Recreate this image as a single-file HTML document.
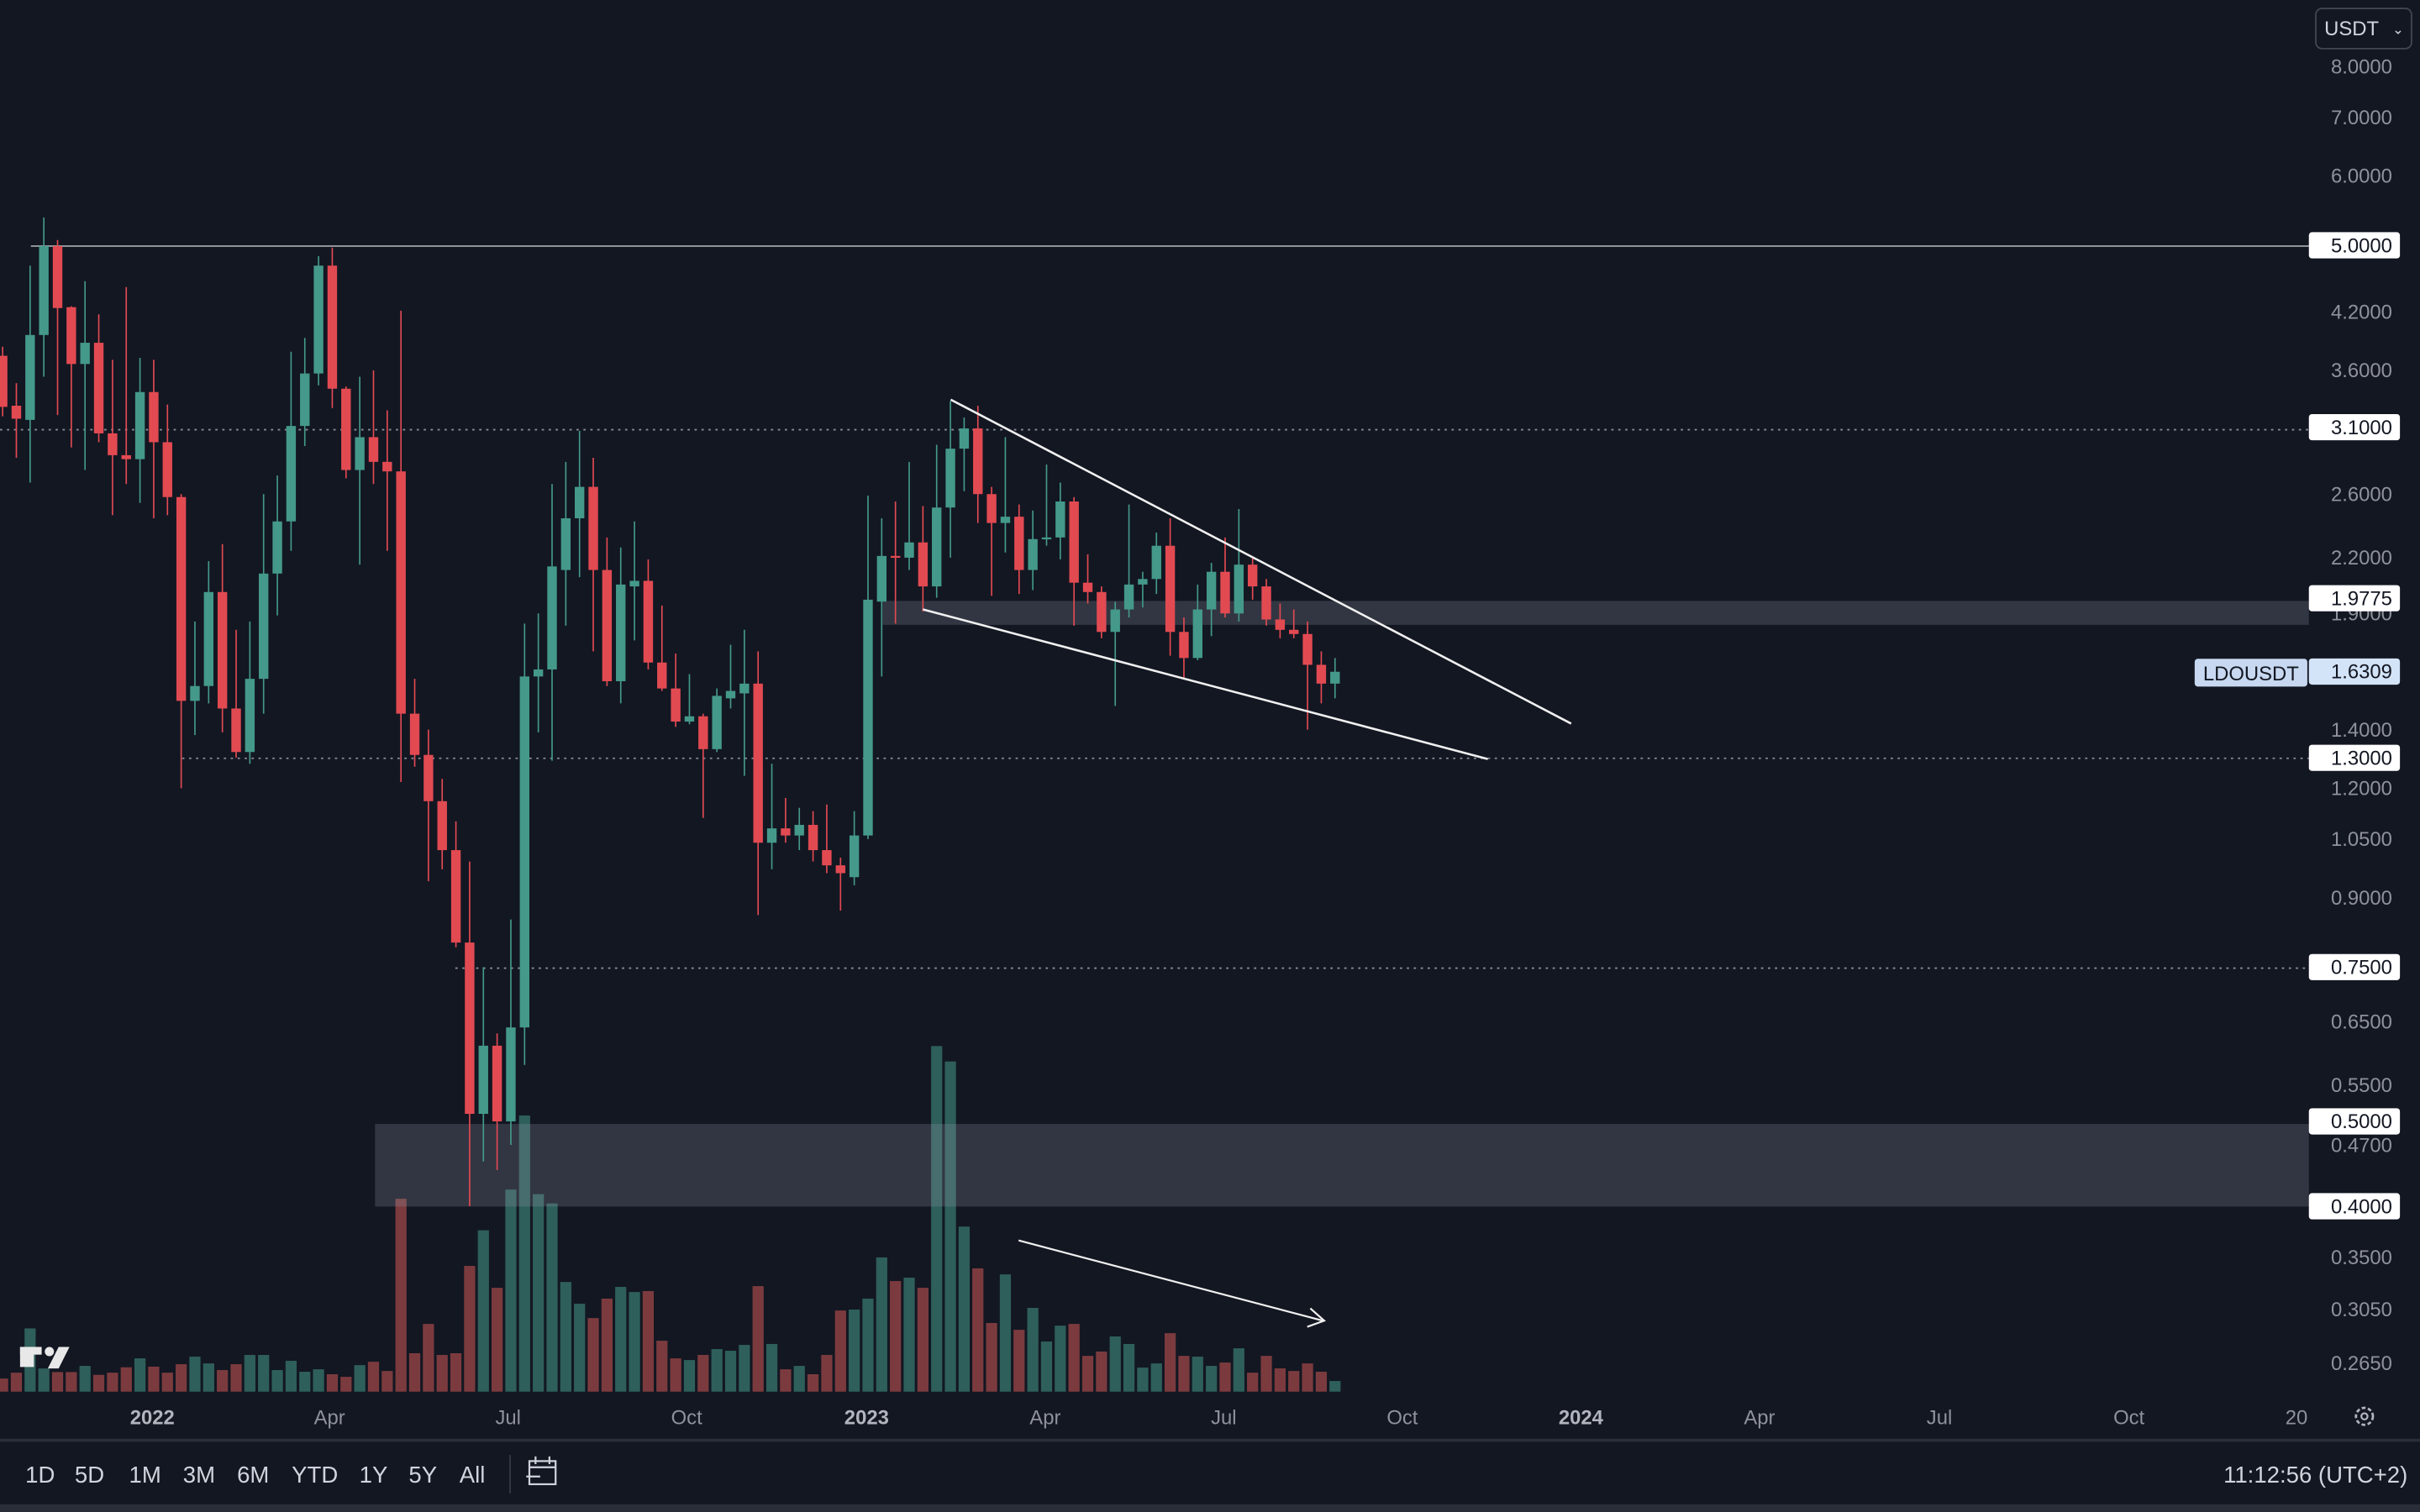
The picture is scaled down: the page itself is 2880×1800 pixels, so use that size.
<!DOCTYPE html>
<html><head><meta charset="utf-8"><style>
html,body{margin:0;padding:0;background:#131722;overflow:hidden}
svg{display:block}
text{font-family:"Liberation Sans",sans-serif}
</style></head><body>
<svg id="chart" width="2880" height="1800" viewBox="0 0 1568 980" xmlns="http://www.w3.org/2000/svg">
<rect x="0" y="0" width="1568" height="980" fill="#131722"/>
<g id="vol"></g>
<g id="hlines">
<line x1="20" y1="159.5" x2="1496" y2="159.5" stroke="#9a9ca3" stroke-width="1"/>
<line x1="0" y1="278.5" x2="1496" y2="278.5" stroke="#8a8d96" stroke-width="1" stroke-dasharray="1.5,3"/>
<line x1="118" y1="491.5" x2="1496" y2="491.5" stroke="#8a8d96" stroke-width="1" stroke-dasharray="1.5,3"/>
<line x1="295" y1="627.5" x2="1496" y2="627.5" stroke="#8a8d96" stroke-width="1" stroke-dasharray="1.5,3"/>
</g>
<rect x="572" y="389.5" width="924" height="15.5" fill="rgba(150,155,172,0.24)"/>
<rect x="243" y="728.5" width="1253" height="53.5" fill="rgba(150,155,172,0.24)"/>
<g id="candles"></g>
<g>
<line x1="616" y1="259" x2="1018" y2="469" stroke="#f0f0f0" stroke-width="1.4"/>
<line x1="598" y1="395" x2="964" y2="492" stroke="#f0f0f0" stroke-width="1.4"/>
<line x1="660" y1="804" x2="857" y2="856" stroke="#f0f0f0" stroke-width="1.2"/>
<polyline points="849,848 858,856 847,860" fill="none" stroke="#f0f0f0" stroke-width="1.2"/>
</g>
<g id="yaxis"></g>
<g id="xaxis"></g>
<g>
<rect x="13" y="873" width="9" height="13" fill="#e8e8e8"/>
<rect x="13" y="873" width="14" height="5" fill="#e8e8e8"/>
<circle cx="32" cy="876" r="3" fill="#e8e8e8"/>
<polygon points="38,873 45,873 38,887 31,887" fill="#e8e8e8"/>
</g>
<g>
<rect x="1500.5" y="5.5" width="62" height="26" rx="4" fill="#131722" stroke="#434651"/>
<text x="1506" y="23" font-size="13" fill="#d1d4dc">USDT</text>
<text x="1550" y="22" font-size="9" fill="#d1d4dc">⌄</text>
</g>
<g>
<rect x="1422" y="427" width="73" height="18" rx="2" fill="#c7d8f0"/>
<text x="1458.5" y="441" font-size="13" fill="#131722" text-anchor="middle">LDOUSDT</text>
</g>
<g>
<circle cx="1532" cy="918" r="5.5" fill="none" stroke="#b2b5be" stroke-width="1.5" stroke-dasharray="2.5,1.5"/>
<circle cx="1532" cy="918" r="2" fill="none" stroke="#b2b5be" stroke-width="1.2"/>
</g>
<line x1="0" y1="933.5" x2="1568" y2="933.5" stroke="#2a2e39" stroke-width="2"/>
<g id="ranges"></g>
<line x1="330.5" y1="943" x2="330.5" y2="968" stroke="#363a45"/>
<g fill="none" stroke="#d1d4dc" stroke-width="1.2">
<rect x="343" y="947" width="17" height="15"/><line x1="343" y1="951" x2="360" y2="951"/><line x1="347" y1="944" x2="347" y2="949"/><line x1="356" y1="944" x2="356" y2="949"/><line x1="341" y1="957" x2="350" y2="957"/>
</g>
<text x="1560" y="961" font-size="15" fill="#d1d4dc" text-anchor="end">11:12:56 (UTC+2)</text>
<rect x="0" y="975" width="1568" height="5" fill="#2a2e39"/>
</svg>
<script>
const opens=[3.74,3.28,3.16,3.95,4.99,4.25,3.66,3.87,3.05,2.88,2.85,3.40,2.98,2.58,1.51,1.57,2.01,1.48,1.32,1.60,2.11,2.42,3.11,3.57,4.74,3.43,2.77,3.02,2.83,2.76,1.46,1.31,1.16,1.02,0.80,0.51,0.61,0.50,0.64,1.61,1.64,2.13,2.44,2.65,2.13,1.59,2.04,2.07,1.67,1.56,1.43,1.45,1.33,1.52,1.54,1.58,1.04,1.08,1.06,1.09,1.02,0.98,0.95,1.06,1.96,2.21,2.20,2.29,2.04,2.51,2.93,3.09,2.60,2.41,2.45,2.13,2.31,2.32,2.55,2.06,2.01,1.81,1.92,2.05,2.08,2.27,1.81,1.69,1.92,2.12,1.90,2.16,2.04,1.87,1.82,1.80,1.66,1.58];
const highs=[3.83,3.48,4.74,5.38,5.07,4.26,4.55,4.17,3.70,4.48,3.72,3.70,3.29,2.60,1.86,2.18,2.28,1.82,1.86,2.60,2.73,3.78,3.92,4.86,4.97,3.45,3.54,3.60,3.24,4.21,1.60,1.40,1.23,1.10,0.99,0.75,0.63,0.85,1.85,1.90,2.67,2.83,3.07,2.86,2.32,2.26,2.42,2.19,1.94,1.71,1.62,1.46,1.56,1.75,1.82,1.72,1.28,1.17,1.14,1.13,1.15,1.00,1.13,2.59,2.44,2.55,2.83,2.52,2.96,3.32,3.18,3.28,2.65,3.02,2.53,2.49,2.81,2.68,2.58,2.22,2.04,1.96,2.53,2.12,2.35,2.44,1.88,2.05,2.17,2.32,2.50,2.20,2.08,1.95,1.92,1.86,1.72,1.69];
const lows=[3.19,2.86,2.68,3.54,3.20,2.94,2.77,2.98,2.46,2.67,2.54,2.44,2.46,1.20,1.38,1.50,1.39,1.30,1.28,1.46,1.89,2.24,2.95,3.46,3.26,2.71,2.16,2.67,2.24,1.22,1.27,0.94,0.97,0.79,0.40,0.45,0.44,0.47,0.58,1.39,1.29,1.84,2.09,1.72,1.57,1.50,1.77,1.64,1.55,1.41,1.42,1.11,1.32,1.48,1.24,0.86,0.97,1.04,1.02,0.99,0.96,0.87,0.93,1.05,1.61,1.85,2.13,1.91,1.98,2.20,2.62,2.41,1.99,2.23,2.00,2.02,2.27,2.19,1.84,1.95,1.78,1.49,1.88,1.93,2.00,1.70,1.60,1.68,1.79,1.88,1.86,1.97,1.84,1.78,1.78,1.40,1.50,1.52];
const closes=[3.27,3.17,3.95,4.99,4.24,3.66,3.87,3.05,2.88,2.85,3.40,2.98,2.58,1.51,1.57,2.01,1.48,1.32,1.60,2.11,2.42,3.11,3.57,4.74,3.43,2.77,3.02,2.83,2.76,1.46,1.31,1.16,1.02,0.80,0.51,0.61,0.50,0.64,1.61,1.64,2.15,2.44,2.65,2.13,1.59,2.05,2.07,1.67,1.56,1.43,1.45,1.33,1.53,1.55,1.58,1.04,1.08,1.06,1.09,1.02,0.98,0.96,1.06,1.97,2.21,2.20,2.29,2.04,2.51,2.93,3.09,2.60,2.41,2.45,2.13,2.31,2.32,2.55,2.06,2.01,1.81,1.92,2.05,2.08,2.27,1.81,1.69,1.92,2.12,1.90,2.16,2.04,1.87,1.82,1.80,1.66,1.58,1.63];
const volumes=[8.5,12.3,41,15,12.7,12.7,16.7,10.9,12.3,15.8,21.6,16.2,12.3,17.8,22.7,18.3,14,17.8,23.8,23.8,14,20,12.9,14.5,11.3,9.6,17.2,19.4,13.4,125,24.9,43.9,23.8,24.9,81.5,104.6,67.3,131,179,128,122,71.1,57,47.7,60.3,67.9,64.6,65.2,33,21.6,20.5,23.8,27.6,26.5,30.3,68.4,30.9,14.5,16.7,11.3,23.8,52.6,53.2,60.3,87,71.7,73.9,67.3,224,214,107,79.9,44.5,76,40.1,54.3,32.5,42.8,43.9,23.2,26,35.8,30.9,15.6,18.3,37.9,23.2,22.7,16.7,18.9,28.1,12.3,23.2,15.1,13.4,18.3,12.9,6.9];
const priceTicks=[8.0,7.0,6.0,4.2,3.6,2.6,2.2,1.9,1.4,1.2,1.05,0.9,0.65,0.55,0.47,0.35,0.305,0.265];
const levelLabels=[5.0,3.1,1.9775,1.3,0.75,0.5,0.4];
const lastPrice=1.6309;
const timeLabels=["2022","Apr","Jul","Oct","2023","Apr","Jul","Oct","2024","Apr","Jul","Oct","20"];
const timeLabelWeeks=[10.9,23.8,36.8,49.8,62.9,75.9,88.9,101.9,114.9,127.9,141,154.8,167];
const rangeLabels=["1D","5D","1M","3M","6M","YTD","1Y","5Y","All"];

const NS="http://www.w3.org/2000/svg";
function yScale(p){return 159+246.6*Math.log(5/p);}
function xScale(i){return 1.7+8.9*i;}
function vScale(v){return v*1.0;}
function mk(tag,attrs,parent){const e=document.createElementNS(NS,tag);for(const k in attrs)e.setAttribute(k,attrs[k]);parent.appendChild(e);return e;}
const GREEN="#44998a",RED="#e24a52",VG="#2e5f5b",VR="#7b3b3e";
const volG=document.getElementById('vol');
volumes.forEach((v,i)=>{
  const up=closes[i]>=opens[i];
  const h=vScale(v);
  const r=mk('rect',{x:xScale(i)-3.6,y:902-h,width:7.2,height:h,fill:up?VG:VR},volG);
  
  
});
const cg=document.getElementById('candles');
opens.forEach((o,i)=>{
  const c=closes[i],up=c>=o,col=up?GREEN:RED,x=xScale(i);
  const g=mk('g',{},cg);
  
  
  mk('line',{x1:x,x2:x,y1:yScale(highs[i]),y2:yScale(lows[i]),stroke:col,'stroke-width':0.9},g);
  const t=yScale(Math.max(o,c)),b=yScale(Math.min(o,c));
  mk('rect',{x:x-3.1,y:t,width:6.2,height:Math.max(1.2,b-t),fill:col},g);
});
const ya=document.getElementById('yaxis');
priceTicks.forEach(p=>{
  const t=mk('text',{x:1550,y:yScale(p)+4.5,'font-size':13,fill:'#8f929b','text-anchor':'end'},ya);
  t.textContent=p.toFixed(4);
  
  
});
function boxLabel(p,bg,fg,name){
  const y=yScale(p);
  const g=mk('g',{},ya);
  
  
  mk('rect',{x:1496,y:y-8.5,width:59,height:17,rx:2,fill:bg},g);
  const t=mk('text',{x:1550,y:y+4.5,'font-size':13,fill:fg,'text-anchor':'end'},g);
  t.textContent=p.toFixed(4);
}
levelLabels.forEach(p=>boxLabel(p,'#ffffff','#131722','level-price-label'));
boxLabel(lastPrice,'#d3e3f8','#131722','last-price-label');
const xa=document.getElementById('xaxis');
timeLabels.forEach((s,k)=>{
  const yr=/^\d{4}$/.test(s);
  const t=mk('text',{x:xScale(timeLabelWeeks[k]),y:923,'font-size':13,fill:yr?'#b2b5be':'#8f929b','font-weight':yr?'bold':'normal','text-anchor':'middle'},xa);
  t.textContent=s;
  
  
});
const rg=document.getElementById('ranges');
const rx=[26,58,94,129,164,204,242,274,306];
rangeLabels.forEach((s,k)=>{
  const t=mk('text',{x:rx[k],y:961,'font-size':15,fill:'#d1d4dc','text-anchor':'middle'},rg);
  t.textContent=s;
  
  
});
</script>
</body></html>
